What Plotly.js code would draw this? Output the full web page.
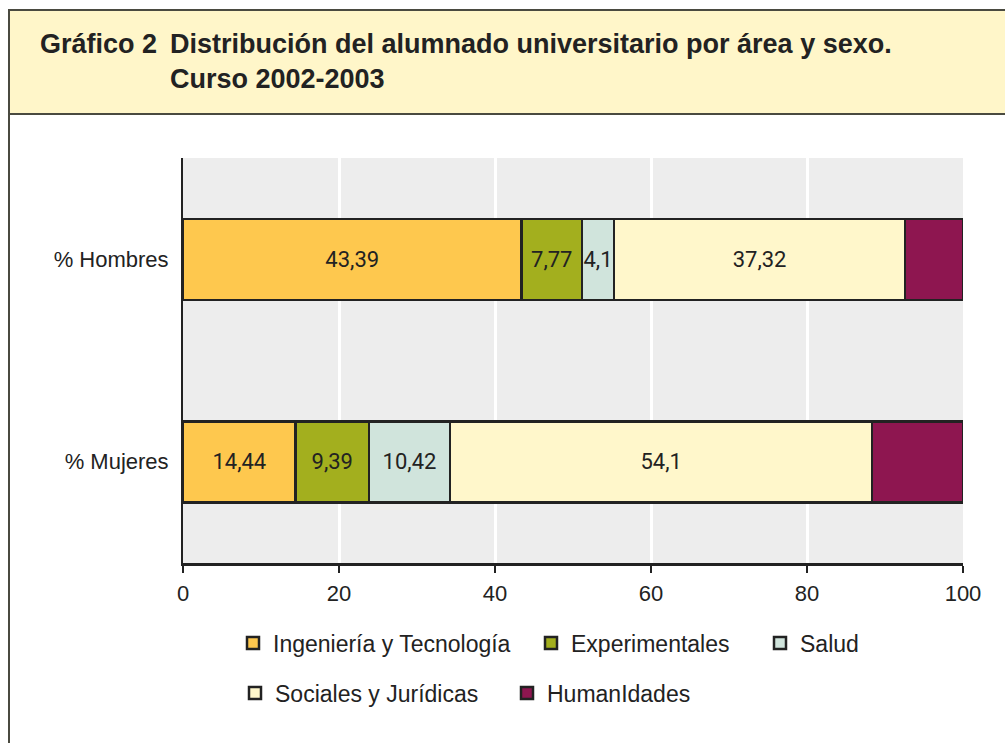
<!DOCTYPE html>
<html>
<head>
<meta charset="utf-8">
<script src="https://cdn.plot.ly/plotly-3.0.1.min.js"></script>
<style>html,body{margin:0;padding:0;background:#fff;} #chart{width:1005px;height:743px;}</style>
</head>
<body>
<div id="chart"></div>
<script>
// ---- data ----
const categories = ['% Mujeres', '% Hombres'];
const areas = ['Ingeniería y Tecnología', 'Experimentales', 'Salud', 'Sociales y Jurídicas', 'HumanIdades'];
const ingenieria     = [14.44, 43.39];
const experimentales = [9.39, 7.77];
const salud          = [10.42, 4.1];
const sociales       = [54.1, 37.32];
const humanidades    = [11.65, 7.42];
const showLabel      = [true, true, true, true, false];
const xTicks = [0, 20, 40, 60, 80, 100];

const colors = ['#fec84e', '#a3af1e', '#d0e4dc', '#fff7cb', '#8e1650'];
const series = [ingenieria, experimentales, salud, sociales, humanidades];
const legendIds = ['legend', 'legend2', 'legend3', 'legend4', 'legend5'];

const fontFam = 'Liberation Sans, Arial, sans-serif';

const traces = series.map((vals, i) => ({
  type: 'bar',
  orientation: 'h',
  name: areas[i],
  y: categories,
  x: vals,
  width: 0.4,
  legend: legendIds[i],
  marker: {color: colors[i], line: {color: '#222222', width: 2.5}},
  text: showLabel[i] ? vals.map(v => String(v).replace('.', ',')) : vals.map(() => ''),
  textposition: 'inside',
  insidetextanchor: 'middle',
  textangle: 0,
  constraintext: 'none',
  textfont: {family: 'Roboto, ' + fontFam, size: 22, color: '#222222'},
  hoverinfo: 'x+y+name'
}));

// helpers to convert frame pixels to paper coords (plot area 183..963 x 158..563)
const px = v => (v - 183) / 780;
const py = v => (563 - v) / 405;

// legend placement (left edge px, row centre px) for each legend entry
const legendPos = [[233, 643], [531, 643], [760, 643], [235, 693], [507, 693]];

const layout = {
  width: 1005,
  height: 743,
  margin: {l: 183, r: 42, t: 158, b: 180},
  paper_bgcolor: '#ffffff',
  plot_bgcolor: '#ededed',
  barmode: 'stack',
  separators: ',.',
  font: {family: fontFam, size: 22, color: '#222222'},
  title: {
    text: '<b>Distribución del alumnado universitario por área y sexo.</b><br><b>Curso 2002-2003</b>',
    font: {family: fontFam, size: 27, color: '#222222'},
    xref: 'container', x: 170 / 1005, xanchor: 'left',
    yref: 'container', y: 1 - 53 / 743, yanchor: 'middle'
  },
  annotations: [{
    text: '<b>Gráfico 2</b>', showarrow: false,
    xref: 'paper', yref: 'paper', x: px(38), xanchor: 'left',
    y: py(44), yanchor: 'middle',
    font: {family: fontFam, size: 27, color: '#222222'}
  }],
  xaxis: {
    range: [0, 100], tickvals: xTicks, ticktext: xTicks.map(String),
    showgrid: true, gridcolor: '#ffffff', gridwidth: 3,
    zeroline: false, showline: true, linecolor: '#222222', linewidth: 3,
    ticks: 'outside', ticklen: 7, tickwidth: 2, tickcolor: '#222222',
    tickfont: {family: fontFam, size: 22, color: '#222222'},
    ticklabelstandoff: 2,
    fixedrange: true
  },
  yaxis: {
    range: [-0.5, 1.5], categoryorder: 'array', categoryarray: categories,
    showgrid: false, zeroline: false, showline: true, linecolor: '#222222', linewidth: 2,
    ticks: '', tickfont: {family: fontFam, size: 22, color: '#222222'},
    ticklabelstandoff: 8,
    fixedrange: true
  },
  shapes: [
    {type: 'rect', xref: 'paper', yref: 'paper', x0: px(9), x1: px(1012), y0: py(114), y1: py(10),
     fillcolor: '#fff6c9', line: {color: '#4a4a40', width: 2}, layer: 'below'},
    {type: 'line', xref: 'paper', yref: 'paper', x0: px(9), x1: px(9), y0: py(114), y1: py(760),
     line: {color: '#4a4a40', width: 2}}
  ],
  showlegend: true
};

legendIds.forEach((id, i) => {
  layout[id] = {
    orientation: 'h', x: px(legendPos[i][0]), xanchor: 'left',
    y: py(legendPos[i][1]), yanchor: 'middle',
    font: {family: fontFam, size: 23, color: '#222222'}, bgcolor: 'rgba(0,0,0,0)'
  };
});

Plotly.newPlot('chart', traces, layout, {displayModeBar: false, responsive: false});
</script>
</body>
</html>
